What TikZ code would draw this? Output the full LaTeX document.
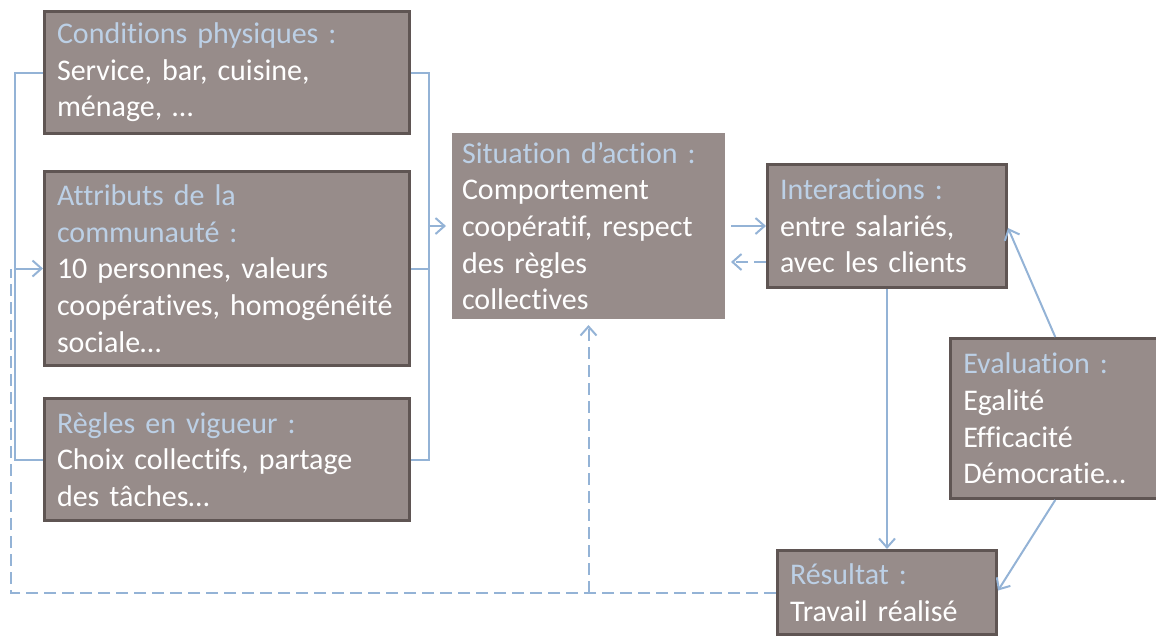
\documentclass[tikz,border=0pt]{standalone}
\usepackage{fontspec}
\setmainfont{Carlito}[Ligatures=CommonOff]
\usetikzlibrary{arrows.meta,shadows}
\definecolor{boxfill}{HTML}{978C8A}
\definecolor{boxline}{HTML}{5F5553}
\definecolor{ttl}{HTML}{BCD0E6}
\definecolor{conn}{HTML}{94B3D6}
\newcommand{\ttlc}[1]{\textcolor{ttl}{#1}}
\tikzset{
  box/.style={draw=boxline, line width=3pt, fill=boxfill, text=white, align=left,
    inner xsep=12.5pt, inner ysep=0pt, font=\fontsize{30}{36.6}\selectfont},
  conn/.style={draw=conn, line width=2pt},
  arr/.style={conn, -{Straight Barb[length=9pt,width=16pt]}},
  dsh/.style={conn, dash pattern=on 12pt off 6pt}
}
\begin{document}
\begin{tikzpicture}[x=1pt,y=-1pt]
\useasboundingbox (0,0) rectangle (1156,641);
\node[box, minimum width=365pt, minimum height=122pt, text width=340pt] (cond) at (227,72.5)
  {\ttlc{Conditions physiques :}\\Service, bar, cuisine,\\ménage, …};
\node[box, minimum width=365pt, minimum height=194pt, text width=340pt] (attr) at (227,268.5)
  {\ttlc{Attributs de la}\\\ttlc{communauté :}\\10 personnes, valeurs\\coopératives, homogénéité\\sociale…};
\node[box, minimum width=365pt, minimum height=122pt, text width=340pt] (regl) at (227,459.5)
  {\ttlc{Règles en vigueur :}\\Choix collectifs, partage\\des tâches…};
\node[box, draw=white, line width=6pt, drop shadow={opacity=0.35, shadow xshift=1.5pt, shadow yshift=-2pt},
  minimum width=279pt, minimum height=192pt, text width=253pt, inner xsep=13pt] (sit) at (588.5,226)
  {\ttlc{Situation d’action :}\\Comportement\\coopératif, respect\\des règles\\collectives};
\node[box, minimum width=239pt, minimum height=123pt, text width=214pt] (inter) at (887,226)
  {\ttlc{Interactions :}\\entre salariés,\\avec les clients};
\node[box, minimum width=209.5pt, minimum height=160pt, text width=184pt] (eval) at (1055.25,418.5)
  {\ttlc{Evaluation :}\\Egalité\\Efficacité\\Démocratie…};
\node[box, minimum width=219pt, minimum height=84pt, text width=194pt] (resu) at (887,592.5)
  {\ttlc{Résultat :}\\Travail réalisé};
% brackets
\coordinate (lx) at (15,0);
\coordinate (rx) at (429,0);
\coordinate (dl) at (11,268.5);
\draw[conn] (cond.west) -- (cond.west -| lx) -- (regl.west -| lx) -- (regl.west);
\draw[arr] (attr.west -| lx) -- (attr.west);
\draw[conn] (cond.east) -- (cond.east -| rx) -- (regl.east -| rx) -- (regl.east);
\draw[conn] (attr.east) -- (attr.east -| rx);
\draw[arr] (sit.west -| rx) -- (sit.west);
% situation <-> interactions
\draw[arr] (sit.east) -- (inter.west);
\path (inter.west) ++(0,36) coordinate (ib);
\draw[dsh, arr] (ib) -- (ib -| sit.east);
% interactions -> resultat
\draw[arr] (inter.south) -- (resu.north);
% evaluation
\draw[arr] (eval.north) -- ([yshift=-2pt]inter.east);
\draw[arr] (eval.south) -- ([yshift=2pt]resu.east);
% feedback dashed
\draw[dsh] (resu.west) -- (resu.west -| dl) -- (dl);
\draw[dsh, arr] (resu.west -| sit.south) -- (sit.south);
\end{tikzpicture}
\end{document}
